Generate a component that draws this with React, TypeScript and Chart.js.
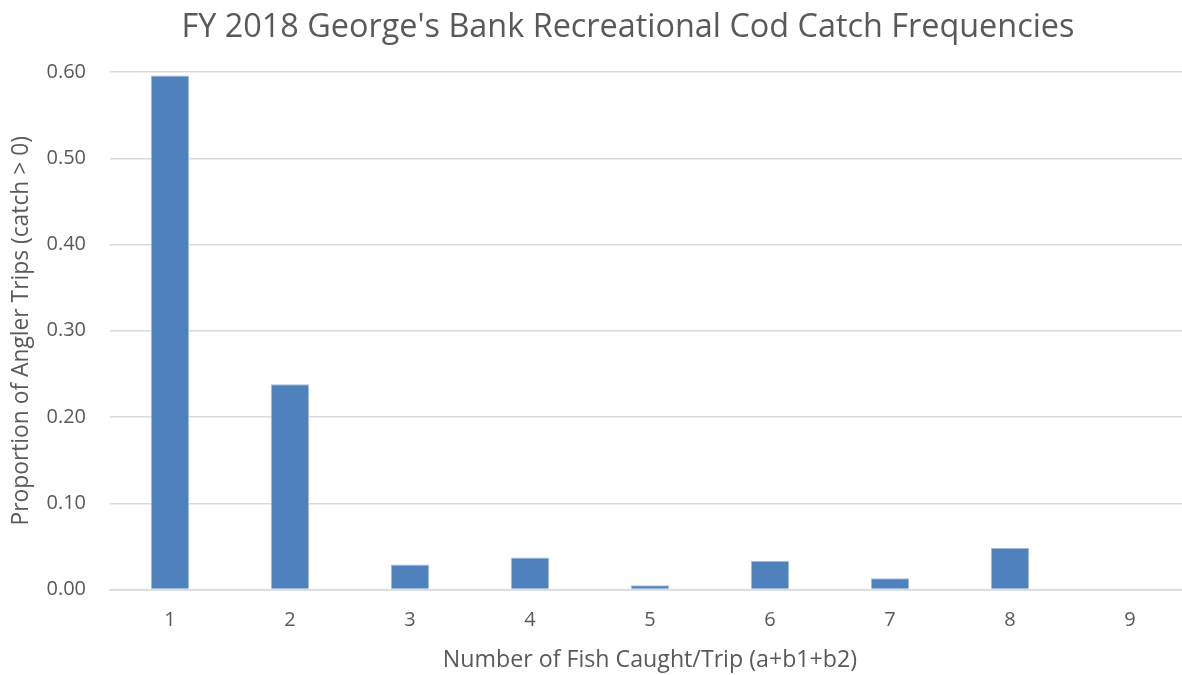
import React, { useEffect, useRef } from "react";
import { Chart, registerables } from "chart.js";

Chart.register(...registerables);

const categories: string[] = ["1", "2", "3", "4", "5", "6", "7", "8", "9"];
const proportions: number[] = [0.596, 0.238, 0.029, 0.037, 0.005, 0.033, 0.013, 0.048, 0];
const yTicks: number[] = [0, 0.1, 0.2, 0.3, 0.4, 0.5, 0.6];

const titleText = "FY 2018 George's Bank Recreational Cod Catch Frequencies";
const xTitle = "Number of Fish Caught/Trip (a+b1+b2)";
const yTitle = "Proportion of Angler Trips (catch > 0)";

const FONT = "'Open Sans', 'Noto Sans', sans-serif";
const TEXT = "#595959";
const GRID = "#D9D9D9";
const BAR = "#4F81BD";
const BAR_EDGE = "#A3BCDD";

export default function App() {
  const ref = useRef<HTMLCanvasElement | null>(null);

  useEffect(() => {
    const canvas = ref.current;
    if (!canvas) return;
    document.documentElement.style.overflow = "hidden";
    document.body.style.margin = "0";
    document.body.style.overflow = "hidden";
    document.body.style.background = "#ffffff";
    const chart = new Chart(canvas, {
      type: "bar",
      data: {
        labels: categories,
        datasets: [
          {
            data: proportions,
            backgroundColor: BAR,
            borderColor: BAR_EDGE,
            borderWidth: 1,
            borderSkipped: "bottom",
            barPercentage: 1,
            categoryPercentage: 0.32,
          },
        ],
      },
      options: {
        responsive: false,
        animation: false,
        devicePixelRatio: 1,
        layout: { padding: 0 },
        plugins: {
          legend: { display: false },
          tooltip: { enabled: false },
          title: {
            display: true,
            text: titleText,
            color: TEXT,
            font: { family: FONT, size: 32.4, weight: "normal" },
            padding: { top: 8.4, bottom: 24.8 },
          },
        },
        scales: {
          x: {
            offset: true,
            grid: { display: false, drawTicks: false },
            border: { display: true, color: GRID, width: 1.5 },
            ticks: {
              color: TEXT,
              font: { family: FONT, size: 20 },
              padding: 19,
            },
            title: {
              display: true,
              text: xTitle,
              color: TEXT,
              font: { family: FONT, size: 23.2 },
              padding: { top: 2, bottom: 0.5 },
            },
            afterFit: (s: any) => {
              s.height = 85.5;
            },
          },
          y: {
            min: 0,
            max: 0.6,
            grid: { color: GRID, lineWidth: 1.5, drawTicks: false },
            border: { display: false },
            afterBuildTicks: (s: any) => {
              s.ticks = yTicks.map((v) => ({ value: v }));
            },
            ticks: {
              color: TEXT,
              font: { family: FONT, size: 20 },
              padding: 24,
              callback: (v: any) => Number(v).toFixed(2),
            },
            title: {
              display: true,
              text: yTitle,
              color: TEXT,
              font: { family: FONT, size: 22.8 },
              padding: { top: 7.5, bottom: 2 },
            },
            afterFit: (s: any) => {
              s.width = 110;
            },
          },
          spacer: {
            type: "linear",
            position: "right",
            display: true,
            grid: { display: false, drawTicks: false },
            border: { display: false },
            ticks: { display: false },
            afterFit: (s: any) => {
              s.width = 66;
            },
          },
        },
      },
    });
    return () => chart.destroy();
  }, []);

  return (
    <div
      style={{
        position: "absolute",
        left: 0,
        top: 0,
        width: 1182,
        height: 675,
        overflow: "hidden",
        background: "#ffffff",
      }}
    >
      <canvas
        ref={ref}
        width={1256}
        height={675}
        style={{ position: "absolute", left: 0, top: 0, width: 1256, height: 675, display: "block" }}
      />
    </div>
  );
}
